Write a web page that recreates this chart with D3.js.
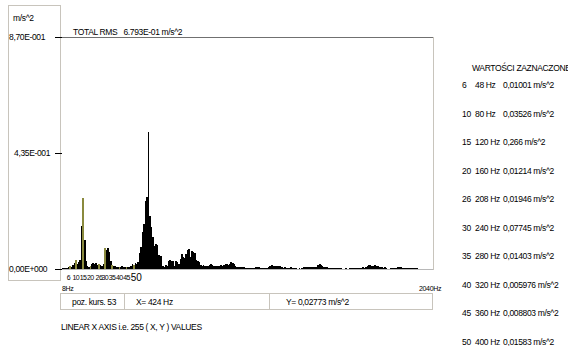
<!DOCTYPE html>
<html>
<head>
<meta charset="utf-8">
<script src="https://cdn.jsdelivr.net/npm/d3@7"></script>
<style>
  body { margin: 0; background: #fff; }
  svg { display: block; font-family: "Liberation Sans", Arial, sans-serif; letter-spacing: -0.35px; }
</style>
</head>
<body>
<div id="chart"></div>
<script>
// 255 spectrum values, bin k = k*8 Hz (m/s^2)
const binValues = [
  0.003,0.004,0.004,0.005,0.006,0.01001,0.008,0.016,0.022,0.03526,
  0.02,0.028,0.034,0.163,0.266,0.108,0.029,0.012,0.009,0.01214,
  0.018,0.022,0.02,0.023,0.014,0.01946,0.016,0.01,0.02,0.07745,
  0.07,0.08,0.062,0.03,0.01403,0.01,0.012,0.008,0.006,0.005976,
  0.007,0.01,0.009,0.008,0.008803,0.006,0.008,0.012,0.018,0.01583,
  0.022,0.02,0.02773,0.06,0.084,0.14,0.17,0.255,0.27,0.514,
  0.2,0.158,0.12,0.085,0.094,0.09,0.052,0.05,0.048,0.01,
  0.008,0.014,0.012,0.03,0.032,0.03,0.031,0.012,0.03,0.028,
  0.02,0.038,0.056,0.045,0.04,0.055,0.07,0.075,0.045,0.066,
  0.062,0.06,0.035,0.03,0.028,0.015,0.012,0.014,0.012,0.01,
  0.012,0.015,0.018,0.014,0.012,0.01,0.013,0.011,0.012,0.014,
  0.012,0.015,0.018,0.02,0.016,0.018,0.025,0.022,0.02,0.01,
  0.008,0.007,0.008,0.006,0.007,0.008,0.005,0.003,0.004,0.003,
  0.004,0.004,0.003,0.006,0.008,0.007,0.005,0.003,0.004,0.004,
  0.003,0.003,0.008,0.012,0.014,0.013,0.012,0.011,0.013,0.012,
  0.01,0.008,0.005,0.006,0.004,0.005,0.005,0.006,0.004,0.005,
  0.003,0.002,0.001,0.002,0.001,0.002,0.006,0.007,0.006,0.007,
  0.006,0.007,0.006,0.008,0.007,0.009,0.014,0.019,0.016,0.012,
  0.008,0.007,0.006,0.004,0.002,0.004,0.003,0.004,0.003,0.004,
  0.003,0.004,0.003,0.001,0.001,0.002,0.001,0.001,0.005,0.004,
  0.005,0.005,0.004,0.005,0.005,0.004,0.005,0.006,0.005,0.006,
  0.012,0.014,0.016,0.013,0.012,0.016,0.011,0.012,0.008,0.007,
  0.006,0.005,0.006,0.003,0.001,0.001,0.004,0.003,0.004,0.003,
  0.004,0.006,0.008,0.007,0.005,0.002,0.003,0.002,0.003,0.002,
  0.003,0.002,0.003,0.002,0.002,0.001,0.001,0.001,0,0.001,
  0.001,0,0,0.001,0
];

// marked points (WARTOŚCI ZAZNACZONE)
const markedBins = [6, 10, 15, 20, 26, 30, 35, 40, 45, 50];
const markedFreqs = [48, 80, 120, 160, 208, 240, 280, 320, 360, 400];
const markedValues = ["0,01001", "0,03526", "0,266", "0,01214", "0,01946",
                      "0,07745", "0,01403", "0,005976", "0,008803", "0,01583"];

const yTickValues = [0, 0.435, 0.87];
const yTickLabels = ["0,00E+000", "4,35E-001", "8,70E-001"];

const cursorBin = 53;
const cursorFreq = 424;
const cursorValue = "0,02773";

const width = 568, height = 346;
const plot = { left: 62, right: 432, top: 37, bottom: 269 };

const svg = d3.select("#chart").append("svg")
    .attr("width", width)
    .attr("height", height);

const x = d3.scaleBand()
    .domain(d3.range(1, binValues.length + 1))
    .range([plot.left, plot.right])
    .paddingInner(0);

const y = d3.scaleLinear()
    .domain([0, 0.87])
    .range([plot.bottom, plot.top]);

// left value box
svg.append("rect")
    .attr("x", 8.5).attr("y", 5.5)
    .attr("width", 52).attr("height", 275)
    .attr("fill", "none")
    .attr("stroke", "#c8c4bc");

svg.append("text").attr("x", 13).attr("y", 21)
    .attr("font-size", 8.5).text("m/s^2");

svg.selectAll(".ylab")
    .data(yTickValues)
    .join("text")
    .attr("class", "ylab")
    .attr("x", (d, i) => i === 1 ? 14 : 9)
    .attr("y", d => y(d) + 3)
    .attr("font-size", 8.5)
    .text((d, i) => yTickLabels[i]);

// plot frame
svg.append("line")
    .attr("x1", plot.left).attr("x2", plot.right + 1)
    .attr("y1", plot.top + 0.5).attr("y2", plot.top + 0.5)
    .attr("stroke", "#707070");
svg.append("line")
    .attr("x1", plot.right + 1.5).attr("x2", plot.right + 1.5)
    .attr("y1", plot.top).attr("y2", plot.bottom + 1)
    .attr("stroke", "#c8c4bc");

svg.append("text").attr("x", 73).attr("y", 35)
    .attr("font-size", 8.5)
    .attr("xml:space", "preserve")
    .text("TOTAL RMS   6.793E-01 m/s^2");

// y axis ticks
svg.append("g")
    .attr("transform", `translate(${plot.left},0)`)
    .call(d3.axisLeft(y).tickValues(yTickValues).tickFormat("").tickSize(7).tickSizeOuter(0))
    .call(g => g.select(".domain").remove())
    .call(g => g.selectAll(".tick line").attr("stroke", "#000"));

// bars
svg.append("g")
    .attr("shape-rendering", "crispEdges")
    .selectAll("rect")
    .data(binValues)
    .join("rect")
    .attr("x", (d, i) => x(i + 1))
    .attr("width", x.bandwidth() + 0.3)
    .attr("y", d => y(d))
    .attr("height", d => y(0) - y(d))
    .attr("fill", (d, i) => markedBins.includes(i + 1) ? "#8a8a3e" : "#000");

// baseline
svg.append("line")
    .attr("x1", plot.left).attr("x2", plot.right + 1)
    .attr("y1", plot.bottom + 0.5).attr("y2", plot.bottom + 0.5)
    .attr("stroke", "#b8b8b8");

// marked bin labels under axis
svg.selectAll(".blab")
    .data(markedBins)
    .join("text")
    .attr("class", "blab")
    .attr("x", d => x(d) + x.bandwidth() / 2 + (d === 6 ? -1.5 : d === 50 ? 2.5 : 0))
    .attr("y", d => d === 50 ? 281 : 280)
    .attr("text-anchor", "middle")
    .attr("font-size", d => d === 50 ? 10 : 7)
    .attr("letter-spacing", d => d === 50 ? 0 : -0.5)
    .text(d => d);

svg.append("text").attr("x", 62).attr("y", 291).attr("font-size", 7).text("8Hz");
svg.append("text").attr("x", 419).attr("y", 291).attr("font-size", 7).text("2040Hz");

// cursor box
const boxTop = 293.5, boxH = 16;
svg.append("rect")
    .attr("x", 60.5).attr("y", boxTop)
    .attr("width", 372).attr("height", boxH)
    .attr("fill", "none").attr("stroke", "#c8c4bc");
[124.5, 269.5].forEach(v => {
  svg.append("line").attr("x1", v).attr("x2", v)
      .attr("y1", boxTop).attr("y2", boxTop + boxH)
      .attr("stroke", "#c8c4bc");
});
svg.append("text").attr("x", 72).attr("y", 305).attr("font-size", 8.5)
    .text(`poz. kurs. ${cursorBin}`);
svg.append("text").attr("x", 136).attr("y", 305).attr("font-size", 8.5)
    .text(`X= ${cursorFreq} Hz`);
svg.append("text").attr("x", 286).attr("y", 305).attr("font-size", 8.5)
    .text(`Y= ${cursorValue} m/s^2`);

svg.append("text").attr("x", 61).attr("y", 330).attr("font-size", 8.5)
    .text("LINEAR X AXIS i.e. 255 ( X, Y ) VALUES");

// right list
svg.append("text").attr("x", 472).attr("y", 71).attr("font-size", 8.5)
    .text("WARTOŚCI ZAZNACZONE");

const rowY = d3.scaleLinear().domain([0, markedBins.length - 1]).range([88, 345]);
const rows = svg.selectAll(".row")
    .data(markedBins)
    .join("g")
    .attr("class", "row")
    .attr("transform", (d, i) => `translate(0,${rowY(i)})`)
    .attr("font-size", 8.5);
rows.append("text").attr("x", 462).text(d => d);
rows.append("text").attr("x", 475).text((d, i) => `${markedFreqs[i]} Hz`);
rows.append("text").attr("x", 503).text((d, i) => `${markedValues[i]} m/s^2`);
</script>
</body>
</html>
